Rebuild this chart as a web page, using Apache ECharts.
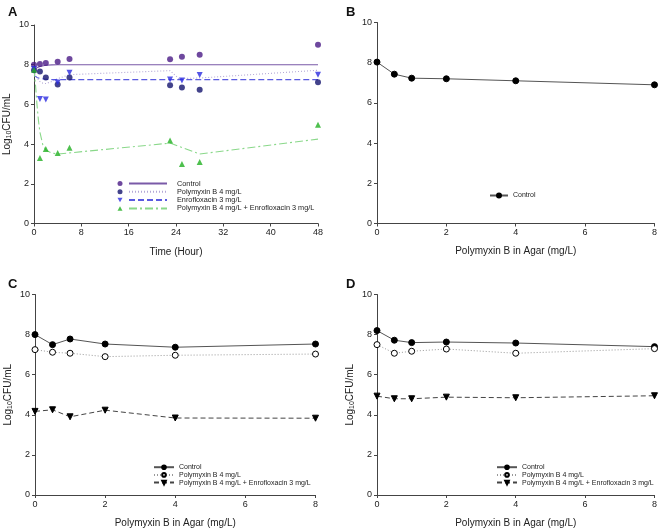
<!DOCTYPE html>
<html><head><meta charset="utf-8">
<script src="https://cdn.jsdelivr.net/npm/echarts@6/dist/echarts.min.js"></script>
<style>html,body{margin:0;padding:0;background:#fff}#c{width:660px;height:529px}</style>
</head><body><div id="c"></div>
<script>
// Panel A: time-kill observations
const timeA = [0, 1, 2, 4, 6, 23, 25, 28, 48];
const ctrlObsA = [8.0, 8.03, 8.08, 8.15, 8.29, 8.28, 8.4, 8.5, 9.0];
const pbObsA = [7.72, 7.66, 7.36, 7.0, 7.36, 6.97, 6.85, 6.74, 7.12];
const enroObsA = [7.78, 6.27, 6.25, 7.1, 7.6, 7.25, 7.2, 7.48, 7.5];
const comboObsA = [7.75, 3.3, 3.75, 3.55, 3.82, 4.18, 3.0, 3.1, 4.97];
// Panel A: model fits
const ctrlFitT = [0, 0.5, 1, 2, 3, 4, 48];
const ctrlFit = [7.75, 7.85, 7.91, 7.97, 7.99, 8.0, 8.0];
const pbFitT = [0, 0.5, 1, 1.5, 2, 3, 4, 6, 23, 24.5, 28, 48];
const pbFit = [7.7, 7.35, 7.15, 7.07, 7.05, 7.15, 7.3, 7.5, 7.7, 7.3, 7.33, 7.72];
const enroFitT = [0, 0.5, 1, 2, 3, 4, 48];
const enroFit = [7.45, 7.36, 7.31, 7.27, 7.25, 7.25, 7.25];
const comboFitT = [0, 0.25, 0.5, 0.75, 1, 1.5, 2, 3, 4, 23, 28, 48];
const comboFit = [7.8, 7.0, 6.0, 5.2, 4.6, 3.95, 3.7, 3.55, 3.5, 4.05, 3.5, 4.25];
// Panels B-D: polymyxin B in agar
const conc = [0, 0.5, 1, 2, 4, 8];
const ctrlB = [8.03, 7.43, 7.23, 7.2, 7.1, 6.9];
const ctrlC = [8.0, 7.5, 7.78, 7.53, 7.37, 7.53];
const pbC = [7.25, 7.12, 7.07, 6.9, 6.97, 7.03];
const comboC = [4.17, 4.25, 3.9, 4.23, 3.84, 3.83];
const ctrlD = [8.2, 7.72, 7.6, 7.63, 7.58, 7.4];
const pbD = [7.5, 7.07, 7.17, 7.28, 7.07, 7.3];
const comboD = [4.93, 4.8, 4.8, 4.88, 4.85, 4.95];

const namesA = ['Control', 'Polymyxin B 4 mg/L', 'Enrofloxacin 3 mg/L', 'Polymyxin B 4 mg/L + Enrofloxacin 3 mg/L'];
const namesCD = ['Control', 'Polymyxin B 4 mg/L', 'Polymyxin B 4 mg/L + Enrofloxacin 3 mg/L'];
const xTitleAgar = 'Polymyxin B in Agar (mg/L)';

const FONT = 'Liberation Sans';
const pair = (xs, ys) => xs.map((x, i) => [x, ys[i]]);
const tag = (p, n) => p + '|' + n;
const untag = (n) => n.split('|').pop();

const axisCommon = {
  axisLine: {lineStyle: {color: '#444', width: 1}},
  axisTick: {show: true, length: 3, lineStyle: {color: '#444'}},
  axisLabel: {color: '#222', fontSize: 9, fontFamily: FONT, margin: 5},
  splitLine: {show: false}
};
const yName = '{a|Log}{b|10}{a|CFU/mL}';
const yNameStyle = {color: '#222', fontFamily: FONT, rich: {a: {fontSize: 10, fontFamily: FONT, color: '#222'}, b: {fontSize: 7, fontFamily: FONT, color: '#222', padding: [4, 0, 0, 0]}}};
function yAx(grid, named) {
  return Object.assign({}, axisCommon, {type: 'value', gridIndex: grid, min: 0, max: 10, interval: 2,
    name: named ? yName : '', nameLocation: 'middle', nameGap: 21, nameTextStyle: yNameStyle});
}
function xAx(grid, max, interval, name, gap) {
  return Object.assign({}, axisCommon, {type: 'value', gridIndex: grid, min: 0, max: max, interval: interval,
    name: name, nameLocation: 'middle', nameGap: gap, nameTextStyle: {color: '#222', fontSize: 10, fontFamily: FONT}});
}

const series = [];
// Panel A
const colA = ['#4a1a86', '#14146e', '#2a2ae0', '#22b022'];
const lineColA = ['#7a5aa8', '#b4a8d6', '#5a5ae0', '#8ad88a'];
const obsA = [ctrlObsA, pbObsA, enroObsA, comboObsA];
const symA = ['circle', 'circle', 'triangle', 'triangle'];
const rotA = [0, 0, 180, 0];
const fitsA = [[ctrlFitT, ctrlFit, 'solid'], [pbFitT, pbFit, [1, 2]], [enroFitT, enroFit, [6, 3]], [comboFitT, comboFit, [8, 3, 2, 3]]];
for (let i = 0; i < 4; i++) {
  series.push({name: tag('A', namesA[i]), type: 'line', xAxisIndex: 0, yAxisIndex: 0, data: pair(fitsA[i][0], fitsA[i][1]),
    symbol: 'none', lineStyle: {color: lineColA[i], width: 1.1, type: fitsA[i][2]}, itemStyle: {color: lineColA[i]}, z: 2});
}
for (let i = 0; i < 4; i++) {
  series.push({name: tag('Aobs', namesA[i]), type: 'scatter', xAxisIndex: 0, yAxisIndex: 0, data: pair(timeA, obsA[i]),
    symbol: symA[i], symbolRotate: rotA[i], symbolSize: 6, itemStyle: {color: colA[i]}, z: 3});
}
// Panels B-D
function agarSeries(grid, name, ys, kind) {
  const st = {
    ctrl: {sym: 'circle', rot: 0, fill: '#000', line: {color: '#555', width: 1, type: 'solid'}},
    pb: {sym: 'circle', rot: 0, fill: '#fff', line: {color: '#999', width: 1, type: [1, 2]}},
    combo: {sym: 'triangle', rot: 180, fill: '#000', line: {color: '#444', width: 1, type: [5, 3]}}
  }[kind];
  return {name: name, type: 'line', xAxisIndex: grid, yAxisIndex: grid, data: pair(conc, ys),
    symbol: st.sym, symbolRotate: st.rot, symbolSize: 6, showSymbol: true,
    itemStyle: {color: st.fill, borderColor: '#000', borderWidth: 1}, lineStyle: st.line};
}
series.push(agarSeries(1, tag('B', 'Control'), ctrlB, 'ctrl'));
series.push(agarSeries(2, tag('C', namesCD[0]), ctrlC, 'ctrl'));
series.push(agarSeries(2, tag('C', namesCD[1]), pbC, 'pb'));
series.push(agarSeries(2, tag('C', namesCD[2]), comboC, 'combo'));
series.push(agarSeries(3, tag('D', namesCD[0]), ctrlD, 'ctrl'));
series.push(agarSeries(3, tag('D', namesCD[1]), pbD, 'pb'));
series.push(agarSeries(3, tag('D', namesCD[2]), comboD, 'combo'));

const legTxt = (fs, lh) => ({color: '#222', fontSize: fs, fontFamily: FONT, lineHeight: lh});
const downTri = 'path://M0,0L10,0L5,9Z';
const upTri = 'path://M5,0L10,9L0,9Z';
const option = {
  animation: false,
  backgroundColor: '#fff',
  title: [
    {text: 'A', left: 3, top: 1, textStyle: {fontSize: 13, fontWeight: 'bold', fontFamily: FONT, color: '#111'}},
    {text: 'B', left: 341, top: 1, textStyle: {fontSize: 13, fontWeight: 'bold', fontFamily: FONT, color: '#111'}},
    {text: 'C', left: 3, top: 273, textStyle: {fontSize: 13, fontWeight: 'bold', fontFamily: FONT, color: '#111'}},
    {text: 'D', left: 341, top: 273, textStyle: {fontSize: 13, fontWeight: 'bold', fontFamily: FONT, color: '#111'}}
  ],
  grid: [
    {left: 34, top: 25, width: 284, height: 198.5},
    {left: 377, top: 22.5, width: 280, height: 201},
    {left: 35, top: 294.5, width: 280.5, height: 201},
    {left: 377, top: 294.5, width: 280, height: 201}
  ],
  xAxis: [xAx(0, 48, 8, 'Time (Hour)', 24), xAx(1, 8, 2, xTitleAgar, 23), xAx(2, 8, 2, xTitleAgar, 23), xAx(3, 8, 2, xTitleAgar, 23)],
  yAxis: [yAx(0, true), yAx(1, false), yAx(2, true), yAx(3, true)],
  legend: [
    {data: [
        {name: tag('Aobs', namesA[0]), icon: 'circle'},
        {name: tag('Aobs', namesA[1]), icon: 'circle'},
        {name: tag('Aobs', namesA[2]), icon: downTri},
        {name: tag('Aobs', namesA[3]), icon: upTri}],
      orient: 'vertical', left: 117.5, top: 179.5, padding: 0, itemWidth: 5, itemHeight: 5,
      itemGap: 0.3, formatter: () => ' ', textStyle: legTxt(7.3, 8), selectedMode: false},
    {data: namesA.map(n => tag('A', n)), orient: 'vertical', left: 128, top: 179.5, padding: 0, itemWidth: 38, itemHeight: 7, itemGap: 0.3,
      itemStyle: {opacity: 0}, formatter: untag,
      textStyle: Object.assign(legTxt(7.3, 8), {padding: [0, 0, 0, 5]}), selectedMode: false},
    {data: [tag('B', 'Control')], orient: 'vertical', left: 489, top: 192, padding: 0, itemWidth: 18, itemHeight: 5,
      formatter: untag, textStyle: legTxt(7, 6), selectedMode: false},
    {data: namesCD.map(n => tag('C', n)), orient: 'vertical', left: 153, top: 463.7, padding: 0, itemWidth: 20, itemHeight: 4.5, itemGap: 0.7,
      formatter: untag, textStyle: legTxt(7, 6.5), selectedMode: false},
    {data: namesCD.map(n => tag('D', n)), orient: 'vertical', left: 496, top: 463.7, padding: 0, itemWidth: 20, itemHeight: 4.5, itemGap: 0.7,
      formatter: untag, textStyle: legTxt(7, 6.5), selectedMode: false}
  ],
  series: series
};
const chart = echarts.init(document.getElementById('c'), null, {renderer: 'canvas'});
chart.setOption(option);
</script></body></html>
